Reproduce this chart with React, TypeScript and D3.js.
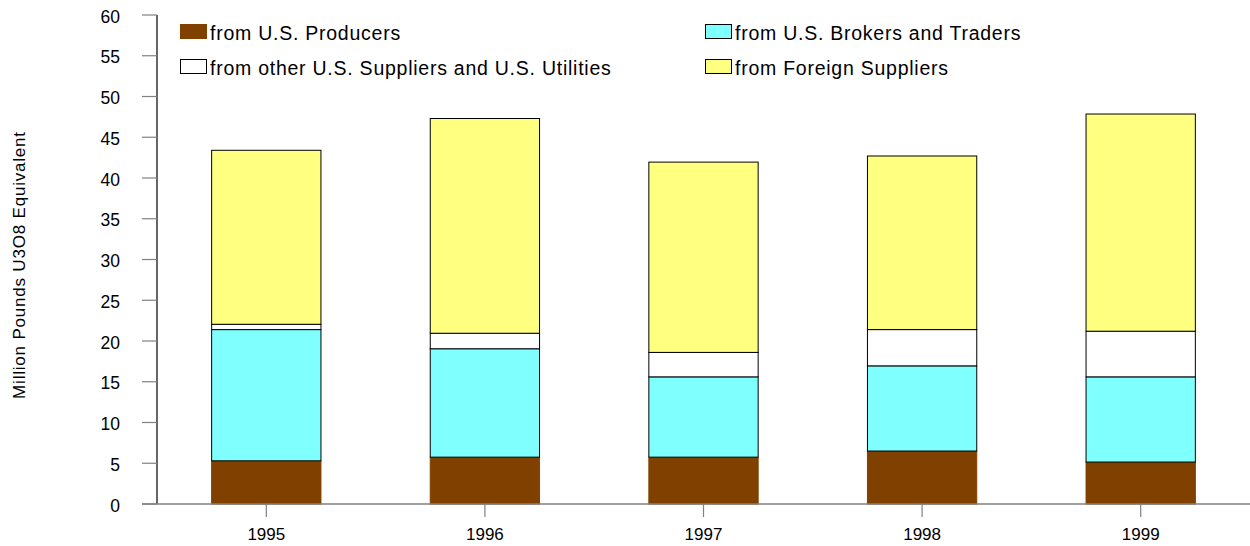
import React from "react";
import * as d3 from "d3";

const years = ["1995", "1996", "1997", "1998", "1999"];
const producers = [5.3, 5.75, 5.75, 6.5, 5.15];
const brokers = [16.1, 13.3, 9.85, 10.45, 10.45];
const otherSuppliers = [0.65, 1.9, 3.0, 4.45, 5.6];
const foreign = [21.35, 26.35, 23.35, 21.3, 26.65];
const yTicks = [0, 5, 10, 15, 20, 25, 30, 35, 40, 45, 50, 55, 60];

const seriesKeys = ["producers", "brokers", "other", "foreign"];
const seriesNames = [
  "from U.S. Producers",
  "from U.S. Brokers and Traders",
  "from other U.S. Suppliers and U.S. Utilities",
  "from Foreign Suppliers",
];
const seriesColors = ["#804000", "#80FFFF", "#FFFFFF", "#FFFF80"];

const width = 1250;
const height = 546;
const left = 157;
const right = 1250;
const top = 15;
const bottom = 504;
const font = "Arial, 'Liberation Sans', sans-serif";

const App = () => {
  const table = years.map((y, i) => ({
    year: y,
    producers: producers[i],
    brokers: brokers[i],
    other: otherSuppliers[i],
    foreign: foreign[i],
  }));
  const stacked = d3.stack<any>().keys(seriesKeys)(table);

  const x = d3.scaleBand().domain(years).range([left, right]).padding(0.5).paddingOuter(0.25);
  const y = d3.scaleLinear().domain([0, 60]).range([bottom, top]);

  // legend layout: two columns, two rows
  const legendPos = [
    { x: 180, y: 24 },
    { x: 705, y: 24 },
    { x: 180, y: 59 },
    { x: 705, y: 59 },
  ];

  return (
    <svg
      width={width}
      height={height}
      style={{ position: "absolute", left: 0, top: 0, background: "#fff" }}
      fontFamily={font}
    >
      {stacked.map((s, si) => (
        <g key={s.key}>
          {s.map((d: any, i: number) => (
            <rect
              key={i}
              x={x(years[i])}
              y={y(d[1])}
              width={x.bandwidth()}
              height={y(d[0]) - y(d[1])}
              fill={seriesColors[si]}
              stroke={si === 0 ? "#804000" : "#000"}
              strokeWidth={1}
            />
          ))}
        </g>
      ))}

      {/* y axis */}
      <line x1={left} x2={left} y1={top} y2={bottom} stroke="#000" strokeWidth={1.2} />
      {yTicks.map((t) => (
        <g key={t}>
          <line x1={left - 15} x2={left} y1={y(t)} y2={y(t)} stroke="#808080" strokeWidth={1.2} />
          <text x={120} y={y(t) + 1.5} dy="0.35em" textAnchor="end" fontSize={17.5} fill="#000">
            {t}
          </text>
        </g>
      ))}

      {/* x axis */}
      <line x1={left - 15} x2={right} y1={bottom} y2={bottom} stroke="#808080" strokeWidth={1.5} />
      {years.map((yr) => {
        const cx = (x(yr) as number) + x.bandwidth() / 2;
        return (
          <g key={yr}>
            <line x1={cx} x2={cx} y1={bottom} y2={bottom + 13} stroke="#808080" strokeWidth={1.2} />
            <text x={cx} y={540} textAnchor="middle" fontSize={17} fill="#000">
              {yr}
            </text>
          </g>
        );
      })}

      <text
        transform="translate(25,265) rotate(-90)"
        textAnchor="middle"
        fontSize={17}
        letterSpacing={0.8}
        fill="#000"
      >
        Million Pounds U3O8 Equivalent
      </text>

      {seriesNames.map((name, i) => (
        <g key={name} transform={`translate(${legendPos[i].x},${legendPos[i].y})`}>
          <rect
            x={0.5}
            y={0.5}
            width={26}
            height={14}
            fill={seriesColors[i]}
            stroke={i === 0 ? "#804000" : "#000"}
          />
          <text x={30} y={15.5} fontSize={19.5} letterSpacing={0.75} fill="#000">
            {name}
          </text>
        </g>
      ))}
    </svg>
  );
};

export default App;
